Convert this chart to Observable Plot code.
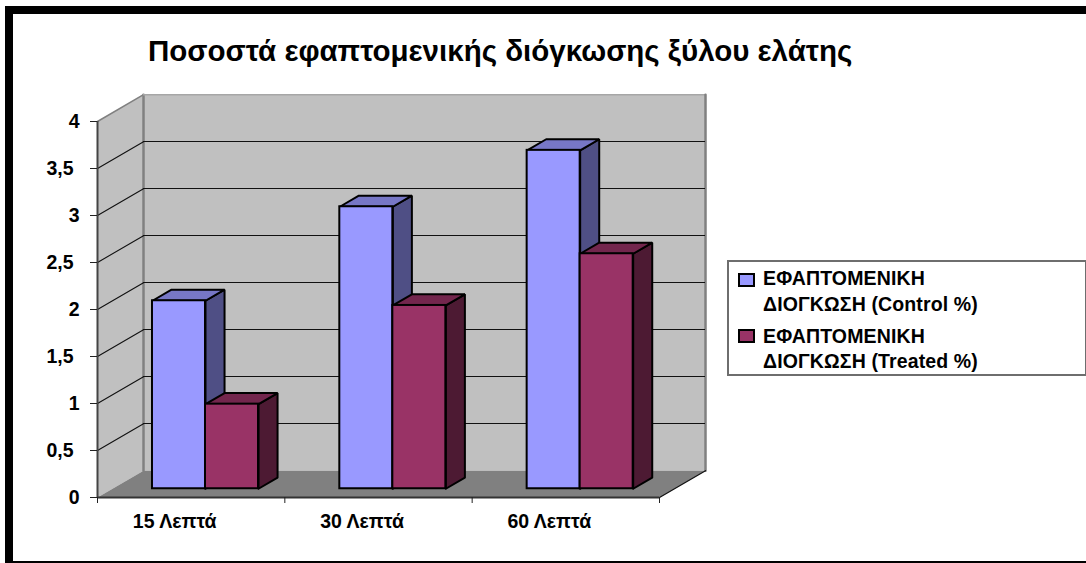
<!DOCTYPE html>
<html>
<head>
<meta charset="utf-8">
<script src="https://cdn.jsdelivr.net/npm/d3@7"></script>
<script src="https://cdn.jsdelivr.net/npm/@observablehq/plot@0.6"></script>
<style>
  html, body { margin: 0; padding: 0; background: #fff; }
  body { font-family: "Liberation Sans", Arial, sans-serif; color: #000; }
  #chart { position: relative; width: 1086px; height: 563px; overflow: hidden; }
  #chart svg { position: absolute; left: 0; top: 0; background: transparent; }
  .frame { position: absolute; background: #000; }
  #title { position: absolute; left: 148px; top: 34px; font-size: 29.5px; font-weight: bold; line-height: 34px; white-space: nowrap; }
  #legend { position: absolute; left: 727px; top: 260px; width: 356px; height: 112px; border: 2px solid #6e6e6e; background: #fff; }
  .key { position: absolute; left: 9px; width: 13px; height: 10px; border: 2px solid #000; }
  .label { position: absolute; left: 34px; font-size: 19.5px; letter-spacing: 0.13px; font-weight: bold; line-height: 25.5px; white-space: nowrap; }
</style>
</head>
<body>
<div id="chart">
  <div class="frame" style="left:5px;top:6px;width:1081px;height:8px"></div>
  <div class="frame" style="left:5px;top:6px;width:8px;height:557px"></div>
  <div class="frame" style="left:5px;top:561px;width:1081px;height:2px"></div>
  <div id="title"></div>
  <div id="legend"></div>
</div>
<script>
const chartTitle = "Ποσοστά εφαπτομενικής διόγκωσης ξύλου ελάτης";
const categories = ["15 Λεπτά", "30 Λεπτά", "60 Λεπτά"];
const control = [2, 3, 3.6];
const treated = [0.9, 1.95, 2.5];
const wholeTicks = [0, 1, 2, 3, 4];
const halfTicks = [0.5, 1.5, 2.5, 3.5];
const seriesNames = ["ΕΦΑΠΤΟΜΕΝΙΚΗ\nΔΙΟΓΚΩΣΗ (Control %)", "ΕΦΑΠΤΟΜΕΝΙΚΗ\nΔΙΟΓΚΩΣΗ (Treated %)"];
const palette = {
  control: {front: "#9999FF", top: "#7777C6", side: "#4F4F85"},
  treated: {front: "#993366", top: "#73264D", side: "#4D1A33"}
};

// Oblique depth axis, expressed in category and value units
const depthX = 0.2456, depthY = 0.2855;
const barFrontZ = 0.326, barBackZ = 0.74;
const barWidth = 0.283, barStart = 0.2935;
const project = (x, y, z) => ({x: x + z * depthX, y: y + z * depthY});

// Closed polygons for the walls and floor
const nCat = categories.length, yMax = wholeTicks[wholeTicks.length - 1];
const poly = (...pts) => [...pts, pts[0]];
const leftWall = poly(project(0, 0, 0), project(0, yMax, 0), project(0, yMax, 1), project(0, 0, 1));
const backWall = poly(project(0, 0, 1), project(0, yMax, 1), project(nCat, yMax, 1), project(nCat, 0, 1));
const floor = poly(project(0, 0, 0), project(0, 0, 1), project(nCat, 0, 1), project(nCat, 0, 0));
const gridValues = [...wholeTicks, ...halfTicks].filter(v => v > 0 && v < yMax);
const sideGrid = gridValues.flatMap(v => [{v, ...project(0, v, 0)}, {v, ...project(0, v, 1)}]);
const backGrid = gridValues.map(v => ({x1: depthX, x2: nCat + depthX, y: v + depthY}));

// The three visible faces of each bar in one series
function barMarks(values, offset, colors) {
  const rows = values.map((v, i) => {
    const x0 = i + barStart + offset * barWidth;
    return {x0, x1: x0 + barWidth, v, y0: barFrontZ * depthY, y1: v + barFrontZ * depthY};
  });
  const dz = barBackZ - barFrontZ;
  const side = rows.flatMap((r, id) => poly(
    {id, x: r.x1, y: r.y0}, {id, x: r.x1, y: r.y1},
    {id, ...project(r.x1, r.y1, dz)}, {id, ...project(r.x1, r.y0, dz)}
  ));
  const top = rows.flatMap((r, id) => poly(
    {id, x: r.x0, y: r.y1}, {id, x: r.x1, y: r.y1},
    {id, ...project(r.x1, r.y1, dz)}, {id, ...project(r.x0, r.y1, dz)}
  ));
  const face = {x: "x", y: "y", z: "id", stroke: "#000", strokeWidth: 2, strokeLinejoin: "miter"};
  return [
    Plot.line(side, {...face, fill: colors.side}),
    Plot.line(top, {...face, fill: colors.top}),
    Plot.rect(rows, {x1: "x0", x2: "x1", y1: "y0", y2: "y1", fill: colors.front, stroke: "#000", strokeWidth: 2})
  ];
}

const surface = {x: "x", y: "y", strokeWidth: 0};
const commaFormat = v => String(v).replace(".", ",");
const tickLabelStyle = {tickSize: 7, tickFormat: commaFormat, label: null, fontSize: 19.5, fontWeight: "bold", stroke: "#222"};
const plot = Plot.plot({
  width: 1086,
  height: 563,
  marginLeft: 97,
  marginRight: 427,
  marginTop: 121,
  marginBottom: 66,
  style: {fontFamily: "'Liberation Sans', Arial, sans-serif", color: "#000", overflow: "visible"},
  x: {domain: [0, nCat], range: [97, 659]},
  y: {domain: [0, yMax], range: [497, 121]},
  marks: [
    Plot.line(leftWall, {...surface, fill: "#C0C0C0"}),
    Plot.line(backWall, {...surface, fill: "#C0C0C0"}),
    // Wall outlines
    Plot.line([project(0, yMax, 0), project(0, yMax, 1)], {x: "x", y: "y", stroke: "#808080", strokeWidth: 1.5}),
    Plot.line([project(0, 0, 1), project(0, yMax, 1)], {x: "x", y: "y", stroke: "#808080", strokeWidth: 2.5}),
    Plot.line([project(0, yMax, 1), project(nCat, yMax, 1)], {x: "x", y: "y", stroke: "#A6A6A6", strokeWidth: 1.5}),
    Plot.line([project(nCat, yMax, 1), project(nCat, 0, 1)], {x: "x", y: "y", stroke: "#808080", strokeWidth: 2.5}),
    // Gridlines run along the side wall, then across the back wall
    Plot.line(sideGrid, {x: "x", y: "y", z: "v", stroke: "#111", strokeWidth: 1.1}),
    Plot.ruleY(backGrid, {x1: "x1", x2: "x2", y: "y", stroke: "#111", strokeWidth: 1, shapeRendering: "crispEdges"}),
    Plot.line(floor, {...surface, fill: "#808080"}),
    Plot.line([project(nCat, 0, 0), project(nCat, 0, 1)], {x: "x", y: "y", stroke: "#111", strokeWidth: 1.2}),
    ...barMarks(control, 0, palette.control),
    ...barMarks(treated, 1, palette.treated),
    // Front edges of the box
    Plot.ruleX([0], {y1: 0, y2: yMax, stroke: "#444", strokeWidth: 2}),
    Plot.ruleY([0], {x1: 0, x2: nCat, stroke: "#333", strokeWidth: 2}),
    Plot.axisY({...tickLabelStyle, ticks: wholeTicks, tickPadding: 11}),
    Plot.axisY({...tickLabelStyle, ticks: halfTicks, tickPadding: 17}),
    Plot.axisX({ticks: d3.range(nCat + 1), tickSize: 6, tickFormat: () => "", label: null, stroke: "#222"}),
    Plot.axisX({
      ticks: categories.map((_, i) => i + 0.5),
      tickSize: 0,
      tickPadding: 17,
      dx: -16.5,
      tickFormat: t => categories[t - 0.5],
      label: null,
      fontSize: 19.5,
      fontWeight: "bold"
    })
  ]
});
document.getElementById("chart").appendChild(plot);
document.getElementById("title").textContent = chartTitle;

// Legend entries
const legend = document.getElementById("legend");
const keyColors = [palette.control.front, palette.treated.front];
seriesNames.forEach((name, i) => {
  const key = document.createElement("div");
  key.className = "key";
  key.style.top = (11 + i * 56) + "px";
  key.style.background = keyColors[i];
  legend.appendChild(key);
  name.split("\n").forEach((line, j) => {
    const label = document.createElement("div");
    label.className = "label";
    label.style.top = (4 + i * 57.5 + j * 25.5) + "px";
    label.textContent = line;
    legend.appendChild(label);
  });
});
</script>
</body>
</html>
